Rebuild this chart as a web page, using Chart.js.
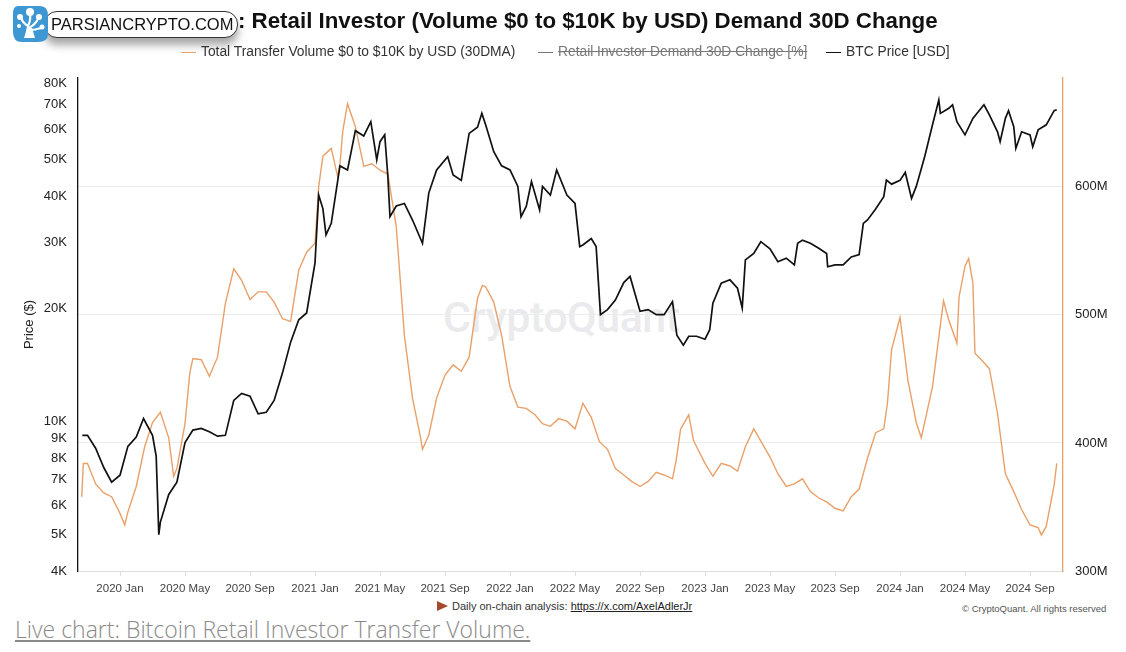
<!DOCTYPE html>
<html>
<head>
<meta charset="utf-8">
<script src="https://cdn.jsdelivr.net/npm/chart.js@4.4.1/dist/chart.umd.min.js"></script>
<style>
    html, body { margin: 0; padding: 0; background: #fff; }
    body { width: 1126px; height: 652px; position: relative; overflow: hidden; font-family: "Liberation Sans", Arial, sans-serif; }
    #wrap { position: absolute; left: 0; top: 0; width: 1126px; height: 652px; }
    #chart { position: absolute; left: 0; top: 0; z-index: 2; }
    .watermark { position: absolute; left: 443px; top: 292px; font-family: Roboto, sans-serif; font-weight: 500; font-size: 43px; color: #ebebed; z-index: 1; letter-spacing: -0.5px; }
    .title { position: absolute; left: 238px; top: 8px; font-family: "Liberation Sans", Arial, sans-serif; font-weight: bold; font-size: 22.3px; color: #111; white-space: nowrap; z-index: 3; }
    .logo-pill { position: absolute; left: 44px; top: 11px; width: 192px; height: 25px; border: 1.5px solid #333; border-radius: 13px; background: #fff; box-shadow: 0 7px 8px rgba(0,0,0,0.35); z-index: 3; }
    .logo-pill span { position: absolute; left: 6px; top: 3px; font-family: "Liberation Sans", Arial, sans-serif; font-size: 16.5px; color: #111; white-space: nowrap; }
    .logo-icon { position: absolute; left: 12px; top: 4px; width: 37px; height: 39px; z-index: 4; }
    .legend { position: absolute; top: 44px; font-size: 13.8px; color: #333; white-space: nowrap; z-index: 3; }
    .legend i { display: inline-block; width: 15px; height: 0; border-top: 1.5px solid; vertical-align: middle; margin-right: 5px; }
    .legend .off { color: #777; text-decoration: line-through; }
    .footer { position: absolute; top: 600px; left: 437px; font-size: 11px; color: #333; white-space: nowrap; }
    .footer b { display: inline-block; width: 0; height: 0; border-top: 5px solid transparent; border-bottom: 5px solid transparent; border-left: 11px solid #a5482c; vertical-align: -1px; margin-right: 4px; }
    .footer u { color: #222; }
    .copy { position: absolute; top: 603px; left: 962px; font-size: 9.5px; color: #555; white-space: nowrap; }
    .live { position: absolute; left: 15px; top: 613px; font-family: "Open Sans", sans-serif; font-weight: 300; font-size: 23px; color: #8a8a8a; text-decoration: underline; white-space: nowrap; }
</style>
</head>
<body>
<div id="wrap">
    <div class="watermark">CryptoQuant</div>
    <canvas id="chart" width="1126" height="652"></canvas>
</div>

<svg class="logo-icon" viewBox="0 0 37 39">
    <path d="M6 2 H28 Q36 2 36 12 V30 Q36 38 26 38 H10 Q1 38 1 28 V10 Q1 2 6 2 Z" fill="#3c97d3"/>
    <path d="M15 33 L16 22 Q11 19 9 14 M16 22 Q19 16 18 10 M16.5 24 Q23 21 26 15 M17 26 Q24 26 29 24" stroke="#fff" stroke-width="2.2" fill="none"/>
    <path d="M12 34 H23 L20 24 H15 Z" fill="#fff"/>
    <circle cx="18" cy="8" r="4" fill="#fff"/>
    <circle cx="8" cy="13" r="3" fill="#fff"/>
    <circle cx="27" cy="13" r="3" fill="#fff"/>
    <circle cx="30" cy="23" r="2.5" fill="#fff"/>
    <circle cx="7" cy="22" r="2" fill="#fff"/>
</svg>
<div class="logo-pill"><span>PARSIANCRYPTO.COM</span></div>
<div class="title">: Retail Investor (Volume $0 to $10K by USD) Demand 30D Change</div>

<div class="legend" style="left:181px"><i style="border-color:#e9a069"></i>Total Transfer Volume $0 to $10K by USD (30DMA)</div>
<div class="legend" style="left:538px"><i style="border-color:#777"></i><span class="off">Retail Investor Demand 30D Change [%]</span></div>
<div class="legend" style="left:826px"><i style="border-color:#111"></i>BTC Price [USD]</div>

<div class="footer"><b></b>Daily on-chain analysis: <u>https://x.com/AxelAdlerJr</u></div>
<div class="copy">© CryptoQuant. All rights reserved</div>
<div class="live">Live chart: Bitcoin Retail Investor Transfer Volume.</div>

<script>
// BTC price [USD]
const btcDates = [
    '2019-10-22','2019-11-01','2019-11-16','2019-12-01','2019-12-16','2020-01-01','2020-01-16','2020-02-01',
    '2020-02-14','2020-03-01','2020-03-08','2020-03-13','2020-03-16','2020-04-01','2020-04-16','2020-05-01',
    '2020-05-16','2020-06-01','2020-06-16','2020-07-01','2020-07-16','2020-08-01','2020-08-16','2020-09-01',
    '2020-09-16','2020-10-01','2020-10-16','2020-11-01','2020-11-16','2020-12-01','2020-12-16','2021-01-01',
    '2021-01-08','2021-01-16','2021-01-22','2021-02-01','2021-02-16','2021-03-01','2021-03-16','2021-04-01',
    '2021-04-14','2021-04-25','2021-05-01','2021-05-10','2021-05-16','2021-05-20','2021-06-01','2021-06-16',
    '2021-07-01','2021-07-20','2021-08-01','2021-08-16','2021-09-06','2021-09-16','2021-10-01','2021-10-16',
    '2021-11-01','2021-11-09','2021-11-16','2021-12-01','2021-12-16','2022-01-01','2022-01-16','2022-01-22',
    '2022-02-01','2022-02-10','2022-02-24','2022-03-01','2022-03-16','2022-03-28','2022-04-16','2022-05-01',
    '2022-05-10','2022-05-16','2022-06-01','2022-06-10','2022-06-18','2022-07-01','2022-07-16','2022-08-01',
    '2022-08-13','2022-09-01','2022-09-16','2022-10-01','2022-10-16','2022-11-01','2022-11-09','2022-11-21',
    '2022-12-01','2022-12-16','2023-01-01','2023-01-10','2023-01-16','2023-02-01','2023-02-16','2023-03-01',
    '2023-03-10','2023-03-16','2023-04-01','2023-04-14','2023-05-01','2023-05-16','2023-06-01','2023-06-16',
    '2023-06-22','2023-07-01','2023-07-16','2023-08-01','2023-08-16','2023-08-18','2023-09-01','2023-09-16',
    '2023-10-01','2023-10-16','2023-10-24','2023-11-01','2023-11-16','2023-12-01','2023-12-06','2023-12-16',
    '2024-01-01','2024-01-11','2024-01-23','2024-02-01','2024-02-16','2024-03-01','2024-03-13','2024-03-16',
    '2024-04-01','2024-04-08','2024-04-16','2024-05-01','2024-05-16','2024-06-06','2024-06-16','2024-07-01',
    '2024-07-06','2024-07-16','2024-07-22','2024-08-01','2024-08-05','2024-08-16','2024-09-01','2024-09-06',
    '2024-09-16','2024-10-01','2024-10-16','2024-10-21'
];
const btcPrice = [
    9200, 9200, 8500, 7550, 6900, 7200, 8600, 9100,
    10200, 9200, 8100, 5000, 5400, 6400, 6900, 8800,
    9500, 9600, 9400, 9150, 9200, 11400, 11900, 11700,
    10500, 10600, 11400, 13500, 16300, 18700, 19500, 26500,
    40200, 37000, 31500, 33800, 48100, 46900, 59700, 57800,
    63100, 49900, 55800, 58200, 45000, 35200, 37600, 38200,
    34500, 29900, 40700, 46900, 50900, 45500, 44000, 58700,
    61000, 66400, 61900, 52500, 48100, 46900, 42400, 35200,
    37500, 43700, 36700, 42400, 40200, 46900, 40200, 38200,
    29300, 29600, 30800, 29300, 19300, 19900, 21100, 23500,
    24400, 19700, 19900, 19300, 19300, 20900, 17000, 16000,
    16900, 16900, 16600, 17600, 20700, 23400, 23900, 22700,
    20100, 27000, 28100, 30200, 28900, 26700, 27300, 26200,
    29900, 30500, 29900, 29000, 28100, 25900, 26200, 26200,
    27500, 27900, 33800, 34500, 36900, 39800, 44100, 43000,
    44000, 46200, 39400, 42400, 50900, 61900, 72100, 66400,
    68500, 70000, 63100, 58200, 64400, 70000, 65800, 59300,
    55800, 64400, 67500, 61200, 53600, 59300, 58200, 54100,
    60000, 61900, 67500, 67900
];

// Total transfer volume $0-$10K (30DMA), millions USD
const volDates = [
    '2019-10-21','2019-10-24','2019-11-01','2019-11-16','2019-12-01','2019-12-16','2020-01-01','2020-01-10',
    '2020-01-16','2020-02-01','2020-02-16','2020-03-01','2020-03-16','2020-04-01','2020-04-10','2020-04-16',
    '2020-05-01','2020-05-10','2020-05-16','2020-06-01','2020-06-16','2020-07-01','2020-07-16','2020-08-01',
    '2020-08-16','2020-09-01','2020-09-16','2020-10-01','2020-10-16','2020-11-01','2020-11-16','2020-12-01',
    '2020-12-16','2021-01-01','2021-01-08','2021-01-16','2021-02-01','2021-02-12','2021-02-16','2021-02-21',
    '2021-03-01','2021-03-16','2021-04-01','2021-04-16','2021-05-01','2021-05-16','2021-06-01','2021-06-16',
    '2021-07-01','2021-07-16','2021-07-20','2021-08-01','2021-08-16','2021-09-01','2021-09-16','2021-10-01',
    '2021-10-16','2021-11-01','2021-11-10','2021-11-16','2021-12-01','2021-12-16','2022-01-01','2022-01-16',
    '2022-02-01','2022-02-16','2022-03-01','2022-03-16','2022-04-01','2022-04-16','2022-05-01','2022-05-16',
    '2022-06-01','2022-06-16','2022-07-01','2022-07-16','2022-08-01','2022-08-16','2022-09-01','2022-09-16',
    '2022-10-01','2022-10-16','2022-11-01','2022-11-08','2022-11-16','2022-12-01','2022-12-10','2022-12-16',
    '2023-01-01','2023-01-16','2023-02-01','2023-02-16','2023-03-01','2023-03-16','2023-04-01','2023-04-16',
    '2023-05-01','2023-05-16','2023-06-01','2023-06-16','2023-07-01','2023-07-16','2023-08-01','2023-08-16',
    '2023-09-01','2023-09-16','2023-10-01','2023-10-16','2023-11-01','2023-11-16','2023-12-01','2023-12-08',
    '2023-12-16','2024-01-01','2024-01-16','2024-02-01','2024-02-10','2024-02-16','2024-03-01','2024-03-16',
    '2024-03-22','2024-04-01','2024-04-16','2024-04-20','2024-05-01','2024-05-08','2024-05-16','2024-05-20',
    '2024-06-01','2024-06-16','2024-07-01','2024-07-16','2024-08-01','2024-08-16','2024-09-01','2024-09-16',
    '2024-09-22','2024-10-01','2024-10-16','2024-10-21'
];
const volValues = [
    358, 384, 384, 368, 361, 358, 345, 336,
    346, 366, 397, 416, 424, 404, 374, 380,
    415, 454, 466, 465, 452, 467, 509, 536,
    527, 512, 518, 518, 510, 497, 495, 535,
    549, 556, 600, 624, 630, 608, 618, 644,
    665, 647, 616, 618, 613, 610, 569, 484,
    435, 405, 395, 406, 435, 453, 461, 456,
    467, 513, 523, 522, 510, 484, 444, 428,
    427, 422, 415, 413, 419, 417, 411, 431,
    420, 401, 395, 380, 375, 370, 366, 370,
    377, 375, 372, 387, 411, 422, 402, 397,
    384, 374, 384, 382, 378, 397, 411, 400,
    389, 376, 366, 368, 372, 362, 357, 354,
    349, 347, 358, 364, 388, 408, 411, 431,
    473, 498, 449, 416, 404, 416, 444, 492,
    511, 496, 478, 514, 538, 544, 525, 470,
    465, 458, 423, 376, 362, 348, 336, 334,
    328, 335, 367, 384
];

// axis ticks
const xTickMonths = [0, 4, 8, 12, 16, 20, 24, 28, 32, 36, 40, 44, 48, 52, 56];
const xTickLabels = ['2020 Jan', '2020 May', '2020 Sep', '2021 Jan', '2021 May', '2021 Sep', '2022 Jan', '2022 May',
    '2022 Sep', '2023 Jan', '2023 May', '2023 Sep', '2024 Jan', '2024 May', '2024 Sep'];
const priceTicks = [4000, 5000, 6000, 7000, 8000, 9000, 10000, 20000, 30000, 40000, 50000, 60000, 70000, 80000];
const volTicks = [300, 400, 500, 600];

// months since 2020 Jan 1
function monthPos(s) {
    const p = s.split('-').map(Number);
    const dim = new Date(p[0], p[1], 0).getDate();
    return (p[0] - 2020) * 12 + (p[1] - 1) + (p[2] - 1) / dim;
}
function pts(dates, vals) {
    return dates.map((d, i) => ({ x: monthPos(d), y: vals[i] }));
}

const axisFont = { family: '"Liberation Sans", Arial, sans-serif', size: 13 };

new Chart(document.getElementById('chart'), {
    type: 'line',
    data: {
        datasets: [{
            label: 'BTC Price [USD]',
            data: pts(btcDates, btcPrice),
            borderColor: '#111111',
            borderWidth: 1.7,
            pointRadius: 0,
            tension: 0,
            yAxisID: 'y',
            order: 0
        }, {
            label: 'Total Transfer Volume $0 to $10K by USD (30DMA)',
            data: pts(volDates, volValues),
            borderColor: 'rgb(233,160,105)',
            borderWidth: 1.4,
            pointRadius: 0,
            tension: 0,
            yAxisID: 'y1',
            order: 1
        }]
    },
    options: {
        responsive: false,
        animation: false,
        layout: { padding: { top: 78, bottom: 51, left: 0, right: 0 } },
        plugins: { legend: { display: false }, tooltip: { enabled: false } },
        scales: {
            x: {
                type: 'linear',
                min: -2.585,
                max: 58.03,
                afterBuildTicks: s => { s.ticks = xTickMonths.map(v => ({ value: v })); },
                afterFit: s => { s.height = 30; },
                ticks: {
                    autoSkip: false,
                    maxRotation: 0,
                    padding: 6,
                    color: '#444',
                    font: { family: axisFont.family, size: 11.5 },
                    callback: v => xTickLabels[xTickMonths.indexOf(v)]
                },
                grid: { drawOnChartArea: false, drawTicks: true, tickLength: 5, color: '#dddddd' },
                border: { color: '#dddddd', width: 1 }
            },
            y: {
                type: 'logarithmic',
                position: 'left',
                min: 4000,
                max: 82500,
                afterBuildTicks: s => { s.ticks = priceTicks.map(v => ({ value: v })); },
                afterFit: s => { s.width = 78; },
                ticks: {
                    autoSkip: false,
                    padding: 11,
                    color: '#222',
                    font: axisFont,
                    callback: v => (v / 1000) + 'K'
                },
                grid: { display: false, drawTicks: false },
                border: { display: true, color: '#111', width: 1.3 },
                title: { display: true, text: 'Price ($)', color: '#222', font: axisFont, padding: { top: 22, bottom: 0 } }
            },
            y1: {
                type: 'linear',
                position: 'right',
                min: 300,
                max: 685,
                afterBuildTicks: s => { s.ticks = volTicks.map(v => ({ value: v })); },
                afterFit: s => { s.width = 63; },
                ticks: {
                    padding: 12,
                    color: '#222',
                    font: axisFont,
                    callback: v => v + 'M'
                },
                grid: { drawOnChartArea: true, drawTicks: false, color: '#ececec' },
                border: { display: true, color: 'rgb(233,160,105)', width: 1.3 }
            }
        }
    }
});
</script>
</body>
</html>
